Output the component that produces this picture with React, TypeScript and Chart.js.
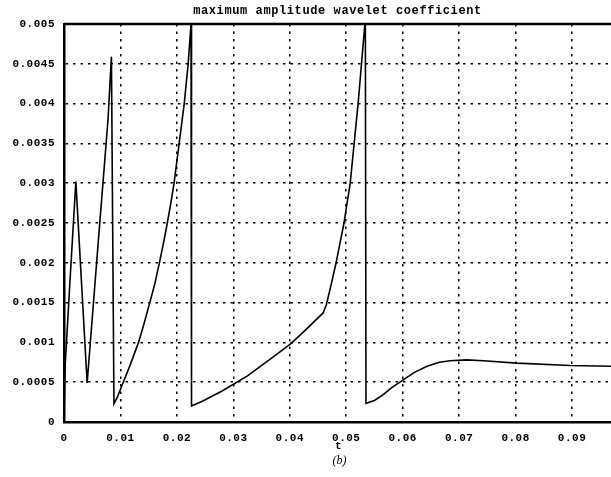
import React, { useEffect, useRef } from "react";
import { Chart, registerables } from "chart.js";

Chart.register(...registerables);

const chartTitle = "maximum amplitude wavelet coefficient";
const xAxisLabel = "t";
const panelLabel = "(b)";

const tValues = [
  0, 0.0002, 0.001, 0.0021, 0.0041, 0.006, 0.0078, 0.0084, 0.00885,
  0.0095, 0.0105, 0.0118, 0.0132, 0.0142, 0.0152, 0.0161, 0.0169, 0.0176,
  0.0183, 0.0189, 0.0195, 0.0204, 0.0213, 0.022, 0.0225, 0.02258, 0.0226,
  0.0245, 0.028, 0.0325, 0.0375, 0.0403, 0.043, 0.0459, 0.0465, 0.0475,
  0.0482, 0.0496, 0.0507, 0.0514, 0.0521, 0.0527, 0.0533, 0.05338, 0.0535,
  0.055, 0.0565, 0.058, 0.0601, 0.062, 0.0643, 0.0665, 0.0684, 0.0713,
  0.0743, 0.0802, 0.0897, 0.097,
];

const amplitudeValues = [
  0.00005, 0.0007, 0.0017, 0.00302, 0.00049, 0.0022, 0.0038, 0.00459, 0.00023,
  0.00032, 0.0005, 0.00073, 0.001, 0.00124, 0.0015, 0.00174, 0.002, 0.00224,
  0.0025, 0.00274, 0.003, 0.0035, 0.004, 0.0045, 0.005, 0.0052, 0.0002,
  0.00026, 0.00039, 0.00058, 0.00084, 0.00099, 0.00117, 0.00137, 0.00148, 0.00178,
  0.002, 0.0025, 0.003, 0.0035, 0.004, 0.0045, 0.005, 0.0052, 0.000235,
  0.00027, 0.00034, 0.00043, 0.00053, 0.00062, 0.0007, 0.00075, 0.00077, 0.00078,
  0.00077, 0.00074, 0.00071, 0.0007,
];

const xTickValues = [0, 0.01, 0.02, 0.03, 0.04, 0.05, 0.06, 0.07, 0.08, 0.09];
const xTickLabels = ["0", "0.01", "0.02", "0.03", "0.04", "0.05", "0.06", "0.07", "0.08", "0.09"];
const yTickValues = [0, 0.0005, 0.001, 0.0015, 0.002, 0.0025, 0.003, 0.0035, 0.004, 0.0045, 0.005];
const yTickLabels = ["0", "0.0005", "0.001", "0.0015", "0.002", "0.0025", "0.003", "0.0035", "0.004", "0.0045", "0.005"];

const MONO = "'Liberation Mono', 'DejaVu Sans Mono', monospace";

export default function App() {
  const canvasRef = useRef<HTMLCanvasElement | null>(null);

  useEffect(() => {
    const canvas = canvasRef.current;
    if (!canvas) return;

    const points = tValues.map((t, i) => ({ x: t, y: amplitudeValues[i] }));

    const decorPlugin = {
      id: "decor",
      beforeDraw(chart: any) {
        const ctx = chart.ctx;
        ctx.save();
        ctx.fillStyle = "#fff";
        ctx.fillRect(0, 0, chart.width, chart.height);
        ctx.restore();
        try {
          ctx.letterSpacing = "0.5px";
        } catch (e) {}
      },
      afterDraw(chart: any) {
        const ctx = chart.ctx;
        const area = chart.chartArea;
        try {
          ctx.letterSpacing = "0px";
        } catch (e) {}
        ctx.save();
        ctx.strokeStyle = "#000";
        ctx.lineWidth = 2.5;
        ctx.beginPath();
        ctx.moveTo(area.left, area.top);
        ctx.lineTo(area.right, area.top);
        ctx.stroke();
        const cx = (area.left + area.right) / 2;
        ctx.fillStyle = "#000";
        ctx.textAlign = "center";
        ctx.textBaseline = "middle";
        try {
          ctx.letterSpacing = "0.6px";
        } catch (e) {}
        ctx.font = `bold 12px ${MONO}`;
        ctx.fillText(chartTitle, cx, 11);
        ctx.font = `bold 11px ${MONO}`;
        ctx.fillText(xAxisLabel, cx + 1, 446);
        try {
          ctx.letterSpacing = "0px";
        } catch (e) {}
        ctx.font = `italic 12px 'Liberation Serif', 'DejaVu Serif', serif`;
        ctx.fillText(panelLabel, cx + 2, 461);
        ctx.restore();
      },
    };

    const chart = new Chart(canvas, {
      type: "line",
      data: {
        datasets: [
          {
            data: points,
            borderColor: "#000",
            borderWidth: 1.6,
            pointRadius: 0,
            tension: 0,
            fill: false,
          },
        ],
      },
      options: {
        animation: false,
        responsive: false,
        devicePixelRatio: 1,
        layout: { padding: { top: 24, left: 0, right: 0, bottom: 0 } },
        plugins: {
          legend: { display: false },
          title: { display: false },
          tooltip: { enabled: false },
        },
        scales: {
          x: {
            type: "linear",
            min: 0,
            max: 0.0969,
            afterBuildTicks: (scale: any) => {
              scale.ticks = xTickValues.map((v) => ({ value: v }));
            },
            afterFit: (scale: any) => {
              scale.height = 55;
              scale.paddingRight = 0;
              scale.paddingLeft = 0;
            },
            grid: {
              color: "#000",
              lineWidth: 1.5,
              drawTicks: false,
            },
            border: { display: true, color: "#000", width: 2.5, dash: [2.5, 5] },
            ticks: {
              padding: 10,
              color: "#000",
              maxRotation: 0,
              autoSkip: false,
              font: { family: MONO, size: 11, weight: "bold" },
              callback: (value: any) => {
                const i = xTickValues.findIndex((v) => Math.abs(v - value) < 1e-9);
                return i >= 0 ? xTickLabels[i] : "";
              },
            },
          },
          y: {
            type: "linear",
            min: 0,
            max: 0.005,
            afterBuildTicks: (scale: any) => {
              scale.ticks = yTickValues.map((v) => ({ value: v }));
            },
            afterFit: (scale: any) => {
              scale.width = 64;
            },
            grid: {
              color: "#000",
              lineWidth: 1.5,
              drawTicks: false,
            },
            border: { display: true, color: "#000", width: 2.5, dash: [2.5, 5] },
            ticks: {
              padding: 9,
              color: "#000",
              autoSkip: false,
              font: { family: MONO, size: 11, weight: "bold" },
              callback: (value: any) => {
                const i = yTickValues.findIndex((v) => Math.abs(v - value) < 1e-12);
                return i >= 0 ? yTickLabels[i] : "";
              },
            },
          },
        },
      },
      plugins: [decorPlugin],
    } as any);

    return () => {
      chart.destroy();
    };
  }, []);

  return (
    <div style={{ position: "fixed", left: 0, top: 0, width: 611, height: 477, background: "#fff" }}>
      <canvas ref={canvasRef} width={611} height={477} style={{ display: "block" }} />
    </div>
  );
}
